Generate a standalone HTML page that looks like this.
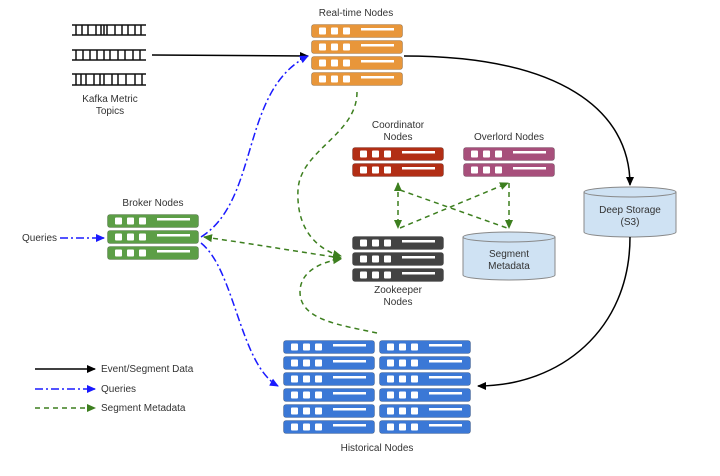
<!DOCTYPE html>
<html><head><meta charset="utf-8"><style>
html,body{margin:0;padding:0;background:#fff;}
svg{display:block;font-family:"Liberation Sans",sans-serif;}
</style></head><body>
<svg width="720" height="476" viewBox="0 0 720 476" xmlns="http://www.w3.org/2000/svg">
<defs>
<symbol id="row" viewBox="0 0 92 14" width="92" height="14" overflow="visible">
<rect x="0.5" y="0.5" width="91" height="13" rx="2.5" stroke-opacity="0.35" stroke="#000" stroke-width="0.6"/>
<rect x="8" y="3.5" width="7" height="7" rx="1" fill="#fff"/>
<rect x="20" y="3.5" width="7" height="7" rx="1" fill="#fff"/>
<rect x="32" y="3.5" width="7" height="7" rx="1" fill="#fff"/>
<rect x="50" y="4" width="33" height="2.5" fill="#fff"/>
</symbol>
<marker id="ak" markerWidth="10" markerHeight="10" refX="8" refY="5" orient="auto" markerUnits="userSpaceOnUse"><path d="M0,1 L9,5 L0,9 Z" fill="#000"/></marker>
<marker id="ab" markerWidth="10" markerHeight="10" refX="8" refY="5" orient="auto" markerUnits="userSpaceOnUse"><path d="M0,1 L9,5 L0,9 Z" fill="#1a1aff"/></marker>
<marker id="ag" markerWidth="10" markerHeight="10" refX="8" refY="5" orient="auto-start-reverse" markerUnits="userSpaceOnUse"><path d="M0,1 L9,5 L0,9 Z" fill="#3d7f1f"/></marker>
</defs>

<!-- Kafka topics -->
<g stroke="#111" stroke-width="1.5" fill="none">
<path d="M72 25H146M72 35H146M72 50H146M72 60H146M72 74H146M72 85H146"/>
<path d="M76 25V35M82 25V35M88 25V35M96 25V35M101 25V35M104 25V35M107 25V35M115 25V35M122 25V35M128 25V35M135 25V35M141 25V35"/>
<path d="M76 50V60M83 50V60M90 50V60M97 50V60M104 50V60M110 50V60M118 50V60M125 50V60M133 50V60M140 50V60"/>
<path d="M76 74V85M81 74V85M86 74V85M94 74V85M100 74V85M104 74V85M112 74V85M118 74V85M126 74V85M135 74V85M142 74V85"/>
</g>
<text x="110" y="102" font-size="10" text-anchor="middle" fill="#333">Kafka Metric</text>
<text x="110" y="114" font-size="10" text-anchor="middle" fill="#333">Topics</text>

<!-- Real-time -->
<text x="356" y="16" font-size="10" text-anchor="middle" fill="#333">Real-time Nodes</text>
<g fill="#e8963a">
<use href="#row" x="311" y="24"/><use href="#row" x="311" y="40"/><use href="#row" x="311" y="56"/><use href="#row" x="311" y="72"/>
</g>

<!-- Broker -->
<text x="153" y="206" font-size="10" text-anchor="middle" fill="#333">Broker Nodes</text>
<g fill="#5c9e46">
<use href="#row" x="107" y="214"/><use href="#row" x="107" y="230"/><use href="#row" x="107" y="246"/>
</g>
<text x="22" y="241" font-size="10" fill="#333">Queries</text>

<!-- Coordinator -->
<text x="398" y="128" font-size="10" text-anchor="middle" fill="#333">Coordinator</text>
<text x="398" y="140" font-size="10" text-anchor="middle" fill="#333">Nodes</text>
<g fill="#b22e15"><use href="#row" x="352" y="147"/><use href="#row" x="352" y="163"/></g>

<!-- Overlord -->
<text x="509" y="140" font-size="10" text-anchor="middle" fill="#333">Overlord Nodes</text>
<g fill="#a74f7b"><use href="#row" x="463" y="147"/><use href="#row" x="463" y="163"/></g>

<!-- Zookeeper -->
<g fill="#434343"><use href="#row" x="352" y="236"/><use href="#row" x="352" y="252"/><use href="#row" x="352" y="268"/></g>
<text x="398" y="293" font-size="10" text-anchor="middle" fill="#333">Zookeeper</text>
<text x="398" y="305" font-size="10" text-anchor="middle" fill="#333">Nodes</text>

<!-- Segment metadata cylinder -->
<path d="M463 237 V275 A46 5 0 0 0 555 275 V237" fill="#cfe2f3" stroke="#888"/>
<ellipse cx="509" cy="237" rx="46" ry="5" fill="#cfe2f3" stroke="#888"/>
<text x="509" y="257" font-size="10" text-anchor="middle" fill="#333">Segment</text>
<text x="509" y="269" font-size="10" text-anchor="middle" fill="#333">Metadata</text>

<!-- Deep storage -->
<path d="M584 192 V232 A46 5 0 0 0 676 232 V192" fill="#cfe2f3" stroke="#888"/>
<ellipse cx="630" cy="192" rx="46" ry="5" fill="#cfe2f3" stroke="#888"/>
<text x="630" y="213" font-size="10" text-anchor="middle" fill="#333">Deep Storage</text>
<text x="630" y="225" font-size="10" text-anchor="middle" fill="#333">(S3)</text>

<!-- Historical -->
<g fill="#3b78d6">
<use href="#row" x="283" y="340"/><use href="#row" x="283" y="356"/><use href="#row" x="283" y="372"/><use href="#row" x="283" y="388"/><use href="#row" x="283" y="404"/><use href="#row" x="283" y="420"/>
<use href="#row" x="379" y="340"/><use href="#row" x="379" y="356"/><use href="#row" x="379" y="372"/><use href="#row" x="379" y="388"/><use href="#row" x="379" y="404"/><use href="#row" x="379" y="420"/>
</g>
<text x="377" y="451" font-size="10" text-anchor="middle" fill="#333">Historical Nodes</text>

<!-- Black connectors -->
<g stroke="#000" stroke-width="1.5" fill="none">
<path d="M152 55 L308 56" marker-end="url(#ak)"/>
<path d="M404 56 C560 56 630 110 630 185" marker-end="url(#ak)"/>
<path d="M630 237 C630 330 560 386 478 386" marker-end="url(#ak)"/>
</g>

<!-- Blue connectors -->
<g stroke="#1a1aff" stroke-width="1.5" fill="none" stroke-dasharray="8 3 2 3">
<path d="M201 237 C260 200 240 90 308 56" marker-end="url(#ab)"/>
<path d="M201 243 C235 270 240 365 278 386" marker-end="url(#ab)"/>
<path d="M60 238 L104 238" marker-end="url(#ab)"/>
</g>

<!-- Green connectors -->
<g stroke="#3d7f1f" stroke-width="1.5" fill="none" stroke-dasharray="5 4">
<path d="M204 237 C260 245 300 252 341 258" marker-start="url(#ag)" marker-end="url(#ag)"/>
<path d="M357 92 C357 135 300 150 298 190 C296 230 318 250 341 256" marker-end="url(#ag)"/>
<path d="M377 333 C340 325 300 320 300 292 C300 272 320 262 341 259" marker-end="url(#ag)"/>
<path d="M398 183 L398 228" marker-start="url(#ag)" marker-end="url(#ag)"/>
<path d="M509 183 L509 228" marker-end="url(#ag)"/>
<path d="M400 190 L507 228"/>
<path d="M400 228 L508 183" marker-end="url(#ag)"/>
</g>

<!-- Legend -->
<path d="M35 369 L95 369" stroke="#000" stroke-width="1.5" marker-end="url(#ak)"/>
<path d="M35 389 L95 389" stroke="#1a1aff" stroke-width="1.5" stroke-dasharray="8 3 2 3" marker-end="url(#ab)"/>
<path d="M35 408 L95 408" stroke="#3d7f1f" stroke-width="1.5" stroke-dasharray="5 4" marker-end="url(#ag)"/>
<text x="101" y="372" font-size="10" fill="#333">Event/Segment Data</text>
<text x="101" y="392" font-size="10" fill="#333">Queries</text>
<text x="101" y="411" font-size="10" fill="#333">Segment Metadata</text>
</svg>
</body></html>
